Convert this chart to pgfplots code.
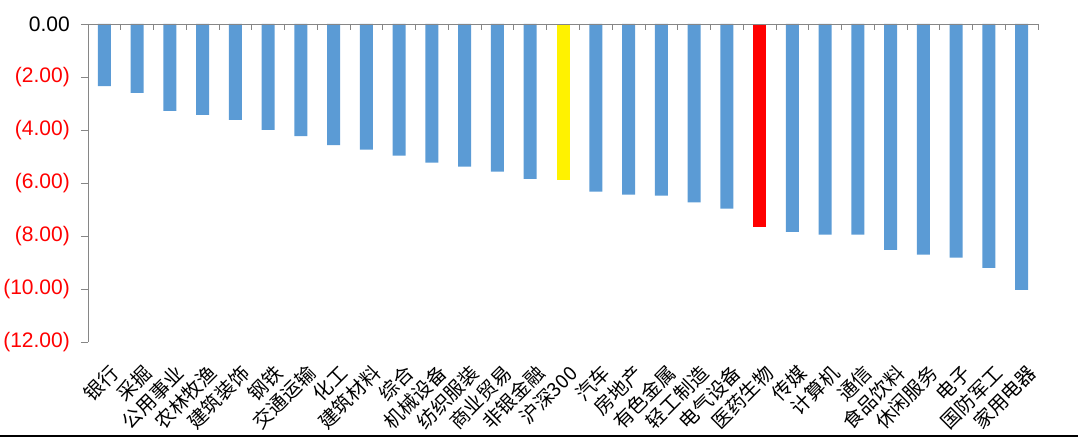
\documentclass[border=0pt]{standalone}
\usepackage{pgfplots}
\pgfplotsset{compat=1.18}
\usepackage{fontspec}
\setmainfont{Liberation Sans}
\newfontfamily\cjk{Noto Sans CJK SC}
\definecolor{barblue}{HTML}{5B9BD5}
\definecolor{axgray}{HTML}{868686}
\begin{document}
\begin{tikzpicture}
\begin{axis}[
  scale only axis,
  width=950pt, height=318pt,
  xmin=-0.5, xmax=28.5,
  ymin=-12, ymax=0,
  axis line style={draw=none},
  xtick={0,...,28},
  xticklabels={银行,采掘,公用事业,农林牧渔,建筑装饰,钢铁,交通运输,化工,建筑材料,综合,机械设备,纺织服装,商业贸易,非银金融,沪深300,汽车,房地产,有色金属,轻工制造,电气设备,医药生物,传媒,计算机,通信,食品饮料,休闲服务,电子,国防军工,家用电器},
  xtick pos=right, xticklabel pos=left,
  major x tick style={draw=none},
  minor xtick={-0.5,0.5,...,28.5},
  minor x tick style={axgray, line width=0.8pt},
  minor tick length=6pt,
  xtick align=inside,
  xticklabel style={font=\cjk\fontsize{19.5}{19.5}\selectfont, rotate=45, anchor=north east, inner sep=0pt, yshift=-18pt, xshift=-12pt},
  ytick={0,-2,-4,-6,-8,-10,-12},
  yticklabels={0.00,\textcolor{red}{(2.00)},\textcolor{red}{(4.00)},\textcolor{red}{(6.00)},\textcolor{red}{(8.00)},\textcolor{red}{(10.00)},\textcolor{red}{(12.00)}},
  ytick pos=left,
  ytick align=outside,
  major tick length=7pt,
  y tick style={axgray, line width=0.8pt},
  yticklabel style={font=\fontsize{21}{21}\selectfont, inner sep=0pt, xshift=-11pt},
  /pgf/number format/assume math mode=true,
  clip=false,
]
\addplot[ybar, bar width=13pt, bar shift=0pt, fill=barblue, draw=none] coordinates {
(0,-2.34) (1,-2.60) (2,-3.28) (3,-3.43) (4,-3.62) (5,-4.00) (6,-4.23) (7,-4.57) (8,-4.74) (9,-4.97)
(10,-5.23) (11,-5.38) (12,-5.57) (13,-5.84) (15,-6.33) (16,-6.44) (17,-6.48) (18,-6.73) (19,-6.97)
(21,-7.84) (22,-7.95) (23,-7.95) (24,-8.52) (25,-8.70) (26,-8.82) (27,-9.20) (28,-10.03)
};
\addplot[ybar, bar width=13pt, bar shift=0pt, fill=yellow, draw=none] coordinates {(14,-5.87)};
\addplot[ybar, bar width=13pt, bar shift=0pt, fill=red, draw=none] coordinates {(20,-7.65)};
\draw[axgray, line width=0.8pt] (rel axis cs:0,1) -- (rel axis cs:1,1);
\draw[axgray, line width=0.8pt] (rel axis cs:0,0) -- (rel axis cs:0,1);
\coordinate (sw) at (rel axis cs:0,0);
\coordinate (ne) at (rel axis cs:1,1);
\end{axis}
\pgfresetboundingbox
\useasboundingbox ([shift={(-88pt,-97pt)}]sw) rectangle ([shift={(40pt,24pt)}]ne);
\draw[black, line width=1.5pt] ([shift={(-88pt,-94pt)}]sw) -- ([shift={(40pt,-94pt)}]sw-|ne);
\end{tikzpicture}
\end{document}
